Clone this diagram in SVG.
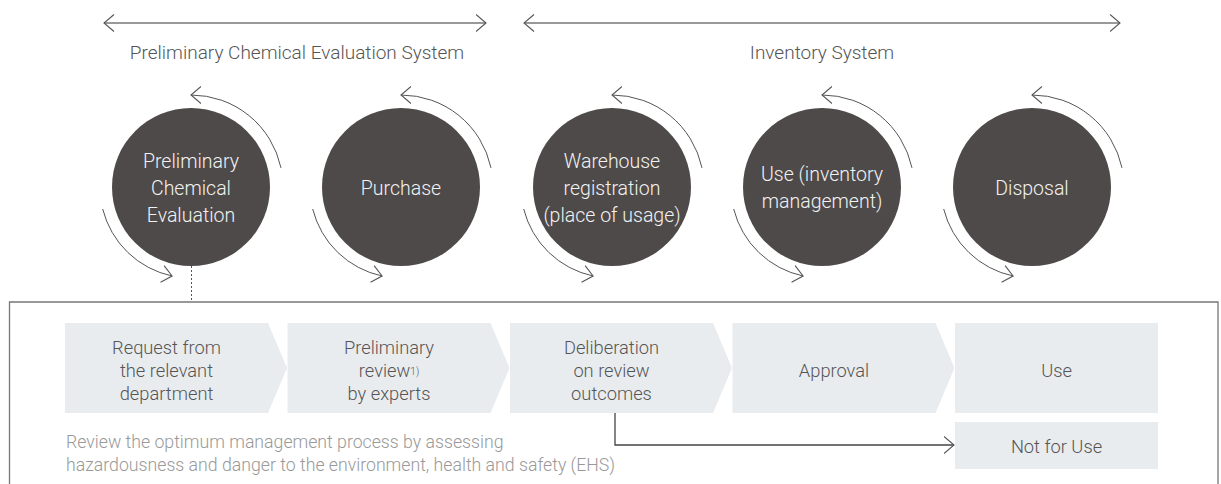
<svg xmlns="http://www.w3.org/2000/svg" width="1221" height="484" viewBox="0 0 1221 484">
<style>
text{font-family:Roboto,"Liberation Sans",Arial,sans-serif;font-weight:300}
.hdr{font-size:19px;fill:#555;text-anchor:middle}
.ct{font-size:19.5px;fill:#f2f2f2;text-anchor:middle}
.st{font-size:18.3px;fill:#555;text-anchor:middle}
.desc{font-size:17.7px;fill:#999}
.circ{fill:#4e4a49}
.arc{fill:none;stroke:#555;stroke-width:1;marker-end:url(#arr)}
.step{fill:#e9ecef}
.line{fill:none;stroke:#777;stroke-width:1.3}
</style>
<defs>
<marker id="arr" viewBox="0 0 12 18" markerWidth="12" markerHeight="18" refX="10.5" refY="9" orient="auto-start-reverse" markerUnits="userSpaceOnUse">
<path d="M0.5,0.5 L10.5,9 L0.5,17.5" fill="none" stroke="#555" stroke-width="1.1"/>
</marker>
</defs>

<g id="connectors">
<path class="line" d="M104,23 H486" marker-start="url(#arr)" marker-end="url(#arr)"/>
<path class="line" d="M524,23 H1120" marker-start="url(#arr)" marker-end="url(#arr)"/>
<path d="M191.5,266 V302" fill="none" stroke="#555" stroke-width="1" stroke-dasharray="2,2"/>
<path d="M615,413 V445 H954" fill="none" stroke="#444" stroke-width="1.3" marker-end="url(#arr)"/>
</g>

<g id="labels">
<text class="hdr" x="297" y="59">Preliminary Chemical Evaluation System</text>
<text class="hdr" x="822" y="59">Inventory System</text>
</g>

<g id="frame">
<path d="M9.5,490 V302 H1218 V490" fill="none" stroke="#777" stroke-width="1.3"/>
</g>

<g id="node-eval">
<circle class="circ" cx="191" cy="187" r="79"/>
<path class="arc" d="M281,167.9 A92 92 0 0 0 191,95"/>
<path class="arc" d="M102.7,209 A91 91 0 0 0 172.1,276"/>
<text class="ct" x="191" y="168">Preliminary</text>
<text class="ct" x="191" y="195">Chemical</text>
<text class="ct" x="191" y="222">Evaluation</text>
</g>

<g id="node-purchase">
<circle class="circ" cx="401" cy="187" r="79"/>
<path class="arc" d="M491,167.9 A92 92 0 0 0 401,95"/>
<path class="arc" d="M312.7,209 A91 91 0 0 0 382.1,276"/>
<text class="ct" x="401" y="195">Purchase</text>
</g>

<g id="node-warehouse">
<circle class="circ" cx="612" cy="187" r="79"/>
<path class="arc" d="M702,167.9 A92 92 0 0 0 612,95"/>
<path class="arc" d="M523.7,209 A91 91 0 0 0 593.1,276"/>
<text class="ct" x="612" y="168">Warehouse</text>
<text class="ct" x="612" y="195">registration</text>
<text class="ct" x="612" y="222">(place of usage)</text>
</g>

<g id="node-use">
<circle class="circ" cx="822" cy="187" r="79"/>
<path class="arc" d="M912,167.9 A92 92 0 0 0 822,95"/>
<path class="arc" d="M733.7,209 A91 91 0 0 0 803.1,276"/>
<text class="ct" x="822" y="181">Use (inventory</text>
<text class="ct" x="822" y="208">management)</text>
</g>

<g id="node-disposal">
<circle class="circ" cx="1032" cy="187" r="79"/>
<path class="arc" d="M1122,167.9 A92 92 0 0 0 1032,95"/>
<path class="arc" d="M943.7,209 A91 91 0 0 0 1013.1,276"/>
<text class="ct" x="1032" y="195">Disposal</text>
</g>

<g id="step-request">
<path class="step" d="M65,323 H268 L287,368 L268,413 H65 Z"/>
<text class="st" x="166.5" y="354">Request from</text>
<text class="st" x="166.5" y="377">the relevant</text>
<text class="st" x="166.5" y="400">department</text>
</g>

<g id="step-review">
<path class="step" d="M287.5,323 H490.5 L509.5,368 L490.5,413 H287.5 Z"/>
<text class="st" x="389" y="354">Preliminary</text>
<text class="st" x="389" y="377">review<tspan font-size="10" dy="-2">1)</tspan></text>
<text class="st" x="389" y="400">by experts</text>
</g>

<g id="step-deliberation">
<path class="step" d="M510,323 H713 L732,368 L713,413 H510 Z"/>
<text class="st" x="611.5" y="354">Deliberation</text>
<text class="st" x="611.5" y="377">on review</text>
<text class="st" x="611.5" y="400">outcomes</text>
</g>

<g id="step-approval">
<path class="step" d="M732.5,323 H935.5 L954.5,368 L935.5,413 H732.5 Z"/>
<text class="st" x="834" y="377">Approval</text>
</g>

<g id="step-use">
<rect class="step" x="955" y="323" width="203" height="90"/>
<text class="st" x="1056.5" y="377">Use</text>
</g>

<g id="step-notforuse">
<rect class="step" x="955" y="422" width="203" height="47"/>
<text class="st" x="1056.5" y="453">Not for Use</text>
</g>

<g id="description">
<text class="desc" x="66" y="448">Review the optimum management process by assessing</text>
<text class="desc" x="66" y="471">hazardousness and danger to the environment, health and safety (EHS)</text>
</g>
</svg>
